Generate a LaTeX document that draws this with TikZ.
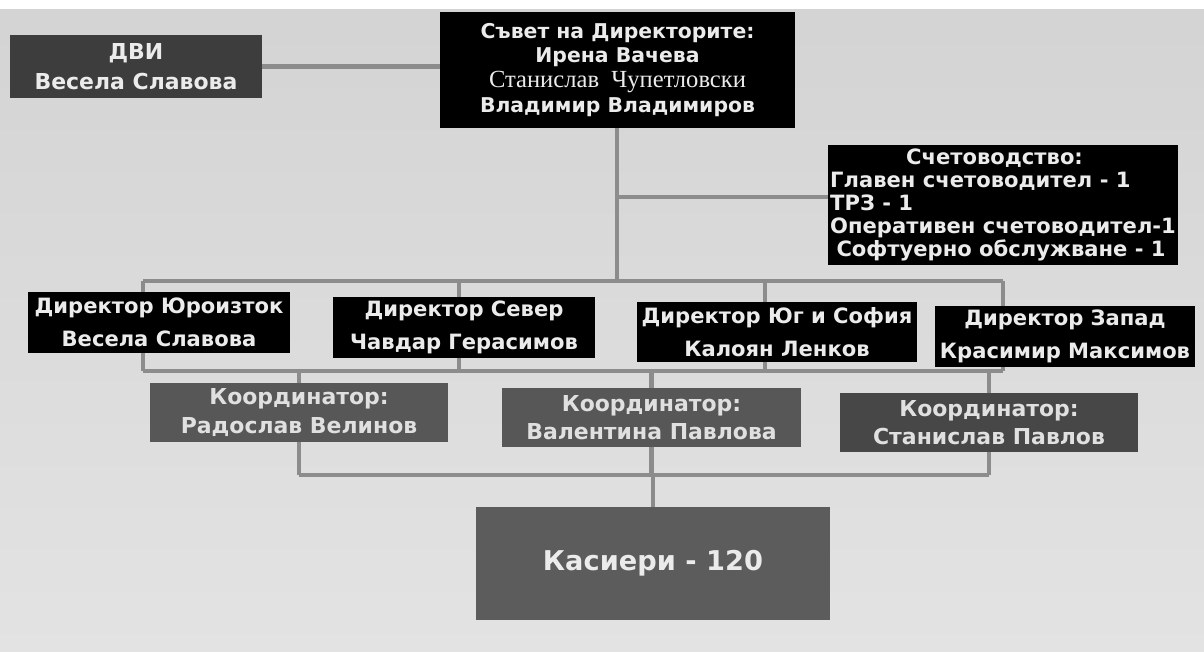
\documentclass[tikz,border=0pt]{standalone}
\usepackage{fontspec}
\setmainfont{DejaVu Sans}
\newfontfamily\serifface{Liberation Serif}
\usetikzlibrary{backgrounds}

\tikzset{
  box/.style={fill=black,text=black!8,inner sep=0pt,align=center,
    font=\bfseries\fontsize{11.6}{14.2}\selectfont},
  dirbox/.style={box,minimum height=1.22cm,font=\bfseries\fontsize{12}{19}\selectfont},
  coordbox/.style={box,fill=black!66,text=black!12,minimum width=5.98cm,minimum height=1.18cm,
    font=\bfseries\fontsize{12.5}{16}\selectfont},
  conn/.style={draw=black!45,line width=2.3pt},
}

\begin{document}
\begin{tikzpicture}[x=0.02cm,y=-0.02cm]
  \useasboundingbox (0,0) rectangle (1204,652);

  % top level
  \node[box,fill=black!76,minimum width=5.04cm,minimum height=1.26cm,
    font=\bfseries\fontsize{12.5}{17}\selectfont] (dvi) at (136,66.5)
    {ДВИ\\Весела Славова};
  \node[box,minimum width=7.1cm,minimum height=2.32cm] (board) at (617.5,70)
    {Съвет на Директорите:\\Ирена Вачева\\{\mdseries\serifface\fontsize{14}{14.2}\selectfont Станислав\ \ Чупетловски}\\Владимир Владимиров};
  \node[box,align=left,minimum width=7.0cm,minimum height=2.4cm,
    font=\bfseries\fontsize{12}{13}\selectfont] (acc) at (1003,205)
    {\hspace{3.6em}Счетоводство:\\Главен счетоводител - 1\\ТРЗ - 1\\Оперативен счетоводител-1\\\hspace{0.3em}Софтуерно обслужване - 1};

  % directors
  \node[dirbox,minimum width=5.24cm] (d1) at (159,322.5) {Директор Юроизток\\Весела Славова};
  \node[dirbox,minimum width=5.24cm] (d2) at (464,327.5) {Директор Север\\Чавдар Герасимов};
  \node[dirbox,minimum width=5.6cm] (d3) at (777,332) {Директор Юг и София\\Калоян Ленков};
  \node[dirbox,minimum width=5.2cm] (d4) at (1065,336.5) {Директор Запад\\Красимир Максимов};

  % coordinators
  \node[coordbox] (c1) at (299,412.5) {Координатор:\\Радослав Велинов};
  \node[coordbox] (c2) at (651.5,417.5) {Координатор:\\Валентина Павлова};
  \node[coordbox,fill=black!72] (c3) at (989,422.5) {Координатор:\\Станислав Павлов};

  \node[box,fill=black!64,minimum width=7.08cm,minimum height=2.26cm,
    font=\bfseries\fontsize{15.5}{16}\selectfont] (kas) at (653,563.5) {Касиери - 120};

  % bus points
  \coordinate (accJ) at (617,197);
  \coordinate (t1) at (143,281);
  \coordinate (t2) at (459,281);
  \coordinate (t3) at (765,281);
  \coordinate (t4) at (1003,281);
  \coordinate (busB) at (143,371);
  \coordinate (busC) at (298,475);

  \begin{scope}[on background layer]
    \fill[top color=black!17,bottom color=black!11] (0,10) rectangle (1204,652);
    \draw[conn] (dvi.east) -- (dvi.east -| board.west);
    \draw[conn] (board.south -| accJ) -- (accJ |- t1);
    \draw[conn] (accJ) -- (accJ -| acc.west);
    \draw[conn] (t1) -- (t4);
    \foreach \i in {1,...,4}
      \draw[conn] (t\i) -- (t\i |- busB);
    \draw[conn] (busB) -- (busB -| t4);
    \foreach \i in {1,2,3}
      \draw[conn] (c\i.north |- busB) -- (c\i.south |- busC);
    \draw[conn] (c1.south |- busC) -- (c3.south |- busC);
    \draw[conn] (kas.north |- busC) -- (kas.north);
  \end{scope}
\end{tikzpicture}
\end{document}
